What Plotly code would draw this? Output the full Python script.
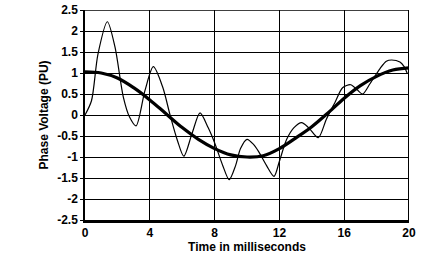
import plotly.graph_objects as go

# Thin (distorted) waveform
thin_t = [0, 0.4, 0.8, 1.38, 1.85, 2.37, 2.75, 3.15, 3.7, 4.22, 4.8, 5.25, 5.7, 6.1, 6.6, 7.1,
          7.6, 8.0, 8.5, 8.9, 9.3, 9.6, 10.0, 10.4, 10.7, 11.2, 11.67, 12.0, 12.45, 12.9, 13.37,
          13.8, 14.4, 14.9, 15.43, 15.9, 16.4, 16.8, 17.14, 17.6, 18.2, 18.6, 18.93, 19.44, 19.7, 19.9]
thin_v = [0.0, 0.34, 1.45, 2.22, 1.62, 0.42, -0.05, -0.26, 0.58, 1.15, 0.66, 0.0, -0.6, -0.98, -0.45, 0.05,
          -0.3, -0.66, -1.2, -1.54, -1.2, -0.8, -0.58, -0.7, -0.86, -1.2, -1.46, -1.1, -0.58, -0.3, -0.18,
          -0.3, -0.54, -0.1, 0.3, 0.65, 0.72, 0.6, 0.5, 0.75, 1.1, 1.28, 1.31, 1.26, 1.15, 0.98]

# Thick (fundamental) waveform
thick_t = list(range(0, 21))
thick_v = [1.03, 1.0, 0.88, 0.65, 0.36, 0.03, -0.3, -0.58, -0.8, -0.95, -1.0, -0.97, -0.8, -0.55,
           -0.28, 0.05, 0.4, 0.7, 0.92, 1.07, 1.12]

x_ticks = [0, 4, 8, 12, 16, 20]
y_ticks = [2.5, 2, 1.5, 1, 0.5, 0, -0.5, -1, -1.5, -2, -2.5]
y_labels = ["2.5", "2", "1.5", "1", "0.5", "0", "-0.5", "-1", "-1.5", "-2", "-2.5"]

fig = go.Figure()
fig.add_trace(go.Scatter(x=thin_t, y=thin_v, mode="lines", line=dict(color="black", width=1.2, shape="spline", smoothing=0.8)))
fig.add_trace(go.Scatter(x=thick_t, y=thick_v, mode="lines", line=dict(color="black", width=3.2, shape="spline")))

font = dict(family="Liberation Sans, Arial", size=12, color="black")
fig.update_layout(
    width=432, height=263,
    margin=dict(l=85, r=23, t=10, b=43),
    paper_bgcolor="white", plot_bgcolor="white",
    showlegend=False,
    font=font,
)
fig.update_xaxes(
    range=[0, 20], tickvals=x_ticks, ticktext=[f"<b>{v}</b>" for v in x_ticks],
    showgrid=True, gridcolor="black", gridwidth=1.2,
    showline=True, linecolor="black", linewidth=3, mirror=False,
    zeroline=False, ticks="", ticklen=0, automargin=False,
    title=dict(text="<b>Time in milliseconds</b>", font=font, standoff=0),
)
fig.update_yaxes(
    range=[-2.5, 2.5], tickvals=y_ticks, ticktext=[f"<b>{s}</b>" for s in y_labels],
    showgrid=True, gridcolor="black", gridwidth=1.2,
    showline=True, linecolor="black", linewidth=1.5, mirror=False,
    zeroline=False, ticks="outside", ticklen=3, tickcolor="black", automargin=False,
    title=dict(text="<b>Phase Voltage (PU)</b>", font=font, standoff=6),
)
# right and top border
fig.add_shape(type="line", xref="x", yref="y", x0=20, x1=20, y0=-2.5, y1=2.5, line=dict(color="black", width=2))
fig.add_shape(type="line", xref="x", yref="y", x0=0, x1=20, y0=2.5, y1=2.5, line=dict(color="black", width=1.5))

fig.write_html("out.html", config={"displayModeBar": False},
               post_script="document.body.style.margin='0';")
